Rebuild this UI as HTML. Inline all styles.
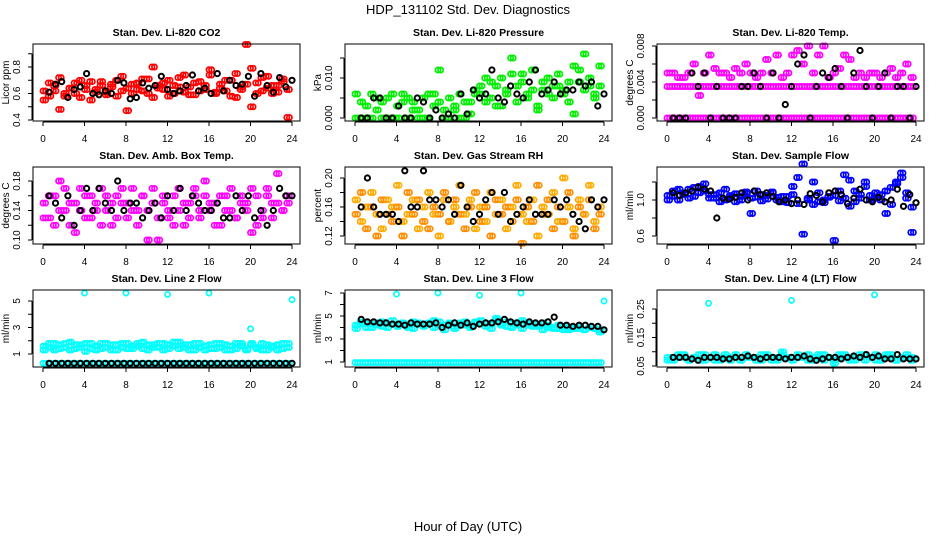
<!DOCTYPE html>
<html><head><meta charset="utf-8">
<style>
html,body{margin:0;padding:0;background:#fff;}
svg{display:block;font-family:"Liberation Sans",sans-serif;}
</style></head>
<body>
<svg id="chart" width="936" height="540" viewBox="0 0 936 540">
<rect width="936" height="540" fill="#fff"/>
<text x="468" y="14" text-anchor="middle" font-size="13">HDP_131102  Std. Dev. Diagnostics</text>
<text x="468" y="531" text-anchor="middle" font-size="13">Hour of Day (UTC)</text>
</svg>
<script>
// ---- shared hour categories ----
const hoursA=[0,0.5,1,1.5,2,2.5,3,3.5,4,4.5,5,5.5,6,6.5,7,7.5,8,8.5,9,9.5,10,10.5,11,11.5,12,12.5,13,13.5,14,14.5,15,15.5,16,16.5,17,17.5,18,18.5,19,19.5,20,20.5,21,21.5,22,22.5,23,23.5];
const hoursB=[0.25,0.75,1.25,1.75,2.25,2.75,3.25,3.75,4.25,4.75,5.25,5.75,6.25,6.75,7.25,7.75,8.25,8.75,9.25,9.75,10.25,10.75,11.25,11.75,12.25,12.75,13.25,13.75,14.25,14.75,15.25,15.75,16.25,16.75,17.25,17.75,18.25,18.75,19.25,19.75,20.25,20.75,21.25,21.75,22.25,22.75,23.25,23.75];
const hoursK=[0.6,1.2,1.8,2.4,3,3.6,4.2,4.8,5.4,6,6.6,7.2,7.8,8.4,9,9.6,10.2,10.8,11.4,12,12.6,13.2,13.8,14.4,15,15.6,16.2,16.8,17.4,18,18.6,19.2,19.8,20.4,21,21.6,22.2,22.8,23.4,24];
const xTicks=[0,4,8,12,16,20,24];
const xTickLabels=["0","4","8","12","16","20","24"];

// ---- panel 1: CO2 ----
const co2A=[0.62,0.58,0.66,0.48,0.60,0.64,0.68,0.57,0.63,0.69,0.61,0.66,0.59,0.65,0.70,0.62,0.47,0.67,0.63,0.71,0.60,0.80,0.64,0.68,0.58,0.66,0.72,0.61,0.65,0.59,0.69,0.63,0.74,0.60,0.67,0.62,0.70,0.57,0.65,0.97,0.50,0.68,0.62,0.73,0.60,0.66,0.71,0.42];
const co2B=[0.55,0.68,0.62,0.72,0.58,0.64,0.60,0.70,0.66,0.55,0.63,0.69,0.61,0.67,0.58,0.73,0.64,0.60,0.68,0.62,0.71,0.57,0.66,0.63,0.70,0.60,0.65,0.74,0.59,0.68,0.62,0.66,0.78,0.61,0.64,0.70,0.58,0.75,0.63,0.67,0.79,0.60,0.72,0.64,0.66,0.61,0.69,0.63];
const co2K=[0.61,0.67,0.69,0.57,0.63,0.65,0.75,0.60,0.59,0.62,0.60,0.70,0.68,0.56,0.57,0.68,0.64,0.66,0.73,0.63,0.60,0.62,0.66,0.74,0.62,0.64,0.60,0.75,0.62,0.70,0.66,0.67,0.73,0.58,0.75,0.66,0.61,0.72,0.65,0.70];
// ---- panel 2: Pressure ----
const presA=[0,0.004,0,0.006,0.002,0,0.005,0,0.003,0.006,0,0.004,0.002,0,0.006,0.003,0.012,0,0.005,0.002,0,0.004,0.001,0.006,0.008,0.004,0.009,0.003,0.010,0.006,0.015,0.008,0.011,0.005,0.007,0.003,0.009,0.006,0.008,0.011,0.007,0.004,0.013,0.009,0.016,0.008,0.006,0.013];
const presB=[0.006,0,0.003,0,0.005,0.004,0,0.006,0,0.004,0.005,0.002,0,0.005,0,0.006,0.004,0.002,0,0.003,0.006,0,0.004,0.007,0.006,0.010,0.005,0.008,0.003,0.007,0.011,0.004,0.009,0.006,0.012,0.002,0.007,0.010,0.005,0.008,0.006,0.009,0.001,0.012,0.007,0.010,0.005,0.008];
const presK=[0,0,0.005,0.005,0,0,0.003,0,0,0.005,0.004,0,0.002,0,0.001,0,0.006,0.001,0.007,0.005,0.006,0.012,0.005,0.004,0.008,0.006,0.005,0.009,0.012,0.006,0.007,0.009,0.006,0.007,0.007,0.009,0.008,0.009,0.003,0.006];
// ---- panel 3: Li-820 Temp ----
const tempA=[0,0,0,0,0,0,0,0,0,0,0,0,0,0,0,0,0,0,0,0,0,0,0,0,0,0,0,0,0,0,0,0,0,0,0,0,0,0,0,0,0,0,0,0,0,0,0,0];
const tempB=[0.0035,0.0035,0.0035,0.0035,0.0035,0.0035,0.0035,0.0035,0.0035,0.0035,0.0035,0.0035,0.0035,0.0035,0.0035,0.0035,0.0035,0.0035,0.0035,0.0035,0.0035,0.0035,0.0035,0.0035,0.0035,0.0035,0.0035,0.0035,0.0035,0.0035,0.0035,0.0035,0.0035,0.0035,0.0035,0.0035,0.0035,0.0035,0.0035,0.0035,0.0035,0.0035,0.0035,0.0035,0.0035,0.0035,0.0035,0.0035];
const tempC=[0.005,0.005,0.0045,0.0045,0.005,0.006,0.0025,0.005,0.007,0.0055,0.005,0.005,0.0045,0.0055,0.005,0.006,0.005,0.0045,0.005,0.0065,0.005,0.007,0.0045,0.005,0.007,0.0075,0.006,0.008,0.005,0.007,0.008,0.0045,0.005,0.0055,0.007,0.0065,0.0045,0.005,0.0045,0.005,0.005,0.0045,0.005,0.0055,0.0045,0.005,0.006,0.0045];
const tempK=[0,0,0,0.005,0.0035,0.005,0,0.0035,0,0,0,0.0035,0.0035,0.005,0.0035,0,0.005,0,0.0015,0.0035,0.006,0.007,0,0.0035,0.005,0.0045,0.0055,0.0035,0,0.005,0.0075,0.0035,0,0.0035,0.005,0,0.0035,0.0035,0,0.0035];
// ---- panel 4: Amb Box Temp ----
const ambA=[0.15,0.13,0.16,0.14,0.17,0.12,0.15,0.14,0.16,0.13,0.15,0.17,0.14,0.12,0.16,0.15,0.13,0.17,0.14,0.16,0.10,0.15,0.13,0.16,0.14,0.12,0.17,0.15,0.13,0.16,0.14,0.18,0.15,0.12,0.16,0.14,0.17,0.13,0.15,0.14,0.11,0.16,0.13,0.17,0.15,0.19,0.14,0.16];
const ambB=[0.13,0.16,0.12,0.18,0.14,0.15,0.11,0.17,0.13,0.16,0.14,0.12,0.16,0.15,0.13,0.17,0.15,0.14,0.12,0.16,0.14,0.17,0.10,0.15,0.13,0.16,0.14,0.12,0.15,0.17,0.13,0.16,0.14,0.15,0.12,0.16,0.14,0.13,0.16,0.15,0.17,0.12,0.14,0.16,0.13,0.15,0.14,0.15];
const ambK=[0.16,0.15,0.13,0.16,0.12,0.14,0.17,0.14,0.17,0.15,0.14,0.18,0.14,0.15,0.15,0.13,0.14,0.15,0.13,0.16,0.14,0.17,0.14,0.16,0.15,0.14,0.14,0.15,0.13,0.13,0.16,0.14,0.16,0.13,0.14,0.12,0.14,0.17,0.16,0.16];
// ---- panel 5: Gas Stream RH ----
const rhA=[0.17,0.14,0.16,0.18,0.15,0.13,0.17,0.16,0.19,0.14,0.15,0.17,0.13,0.16,0.18,0.15,0.12,0.17,0.14,0.16,0.19,0.15,0.17,0.13,0.16,0.14,0.18,0.15,0.17,0.13,0.16,0.19,0.15,0.14,0.17,0.12,0.16,0.15,0.18,0.14,0.20,0.16,0.13,0.17,0.15,0.19,0.14,0.16];
const rhB=[0.15,0.18,0.13,0.16,0.12,0.17,0.15,0.14,0.16,0.12,0.18,0.15,0.17,0.14,0.13,0.16,0.15,0.18,0.14,0.17,0.15,0.13,0.16,0.18,0.14,0.16,0.12,0.17,0.15,0.16,0.14,0.17,0.11,0.16,0.14,0.19,0.15,0.17,0.13,0.16,0.14,0.18,0.12,0.16,0.15,0.17,0.13,0.15];
const rhK=[0.16,0.20,0.16,0.15,0.15,0.15,0.14,0.21,0.16,0.16,0.21,0.17,0.17,0.16,0.17,0.15,0.19,0.16,0.14,0.15,0.17,0.18,0.15,0.18,0.14,0.15,0.16,0.17,0.15,0.15,0.15,0.17,0.16,0.17,0.15,0.14,0.13,0.17,0.16,0.17];
// ---- panel 6: Sample Flow ----
const sfA=[1.05,1.10,1.00,1.08,1.12,1.04,1.15,1.10,1.06,1.02,1.08,1.00,1.05,0.98,1.04,1.07,1.02,1.10,0.99,1.05,1.08,1.00,1.04,0.97,1.06,1.25,0.62,1.02,1.20,0.98,1.00,1.04,0.55,1.10,1.02,1.22,0.98,1.06,1.15,1.00,1.02,1.06,1.10,0.95,1.18,1.25,1.08,0.92];
const sfB=[1.00,1.04,1.12,1.06,1.02,1.14,1.08,1.18,1.02,1.06,0.98,1.12,1.03,1.07,1.00,1.09,0.85,1.03,1.06,1.01,1.09,1.03,0.98,1.04,1.15,0.96,1.40,1.00,0.95,1.08,0.97,1.03,1.05,0.99,1.28,0.93,1.10,1.02,1.20,1.05,1.08,1.00,0.85,1.14,1.20,1.30,1.02,0.64];
const sfK=[1.08,1.05,1.08,1.10,1.14,1.12,1.10,0.80,1.02,1.01,1.03,1.08,1.00,1.10,1.06,1.08,1.04,0.98,1.00,0.96,1.00,0.95,1.07,1.05,0.98,1.08,1.10,1.06,0.96,1.02,1.12,1.00,0.98,1.03,0.98,1.00,1.12,0.93,1.06,0.97];
// ---- panel 7: Line 2 Flow ----
const l2A=[1.6,1.8,1.3,1.7,1.5,1.9,1.4,1.7,1.2,1.8,1.6,1.4,1.8,1.3,1.7,1.5,1.8,1.4,1.6,1.9,1.3,1.7,1.5,1.8,1.4,1.6,1.9,1.5,1.7,1.3,1.8,1.6,1.4,1.8,1.5,1.7,1.3,1.8,1.6,1.4,1.7,1.5,1.8,1.3,1.6,1.7,1.4,1.8];
const l2B=[1.3,1.5,1.8,1.4,1.8,1.3,1.7,1.5,1.8,1.4,1.3,1.8,1.5,1.7,1.3,1.8,1.4,1.6,1.8,1.4,1.7,1.5,1.8,1.3,1.7,1.9,1.4,1.7,1.3,1.8,1.5,1.3,1.7,1.4,1.8,1.3,1.6,1.4,1.8,1.3,1.8,1.4,1.3,1.7,1.5,1.3,1.8,1.5];
const l2C=[0.3,0.3,0.3,0.3,0.3,0.3,0.3,0.3,0.3,0.3,0.3,0.3,0.3,0.3,0.3,0.3,0.3,0.3,0.3,0.3,0.3,0.3,0.3,0.3,0.3,0.3,0.3,0.3,0.3,0.3,0.3,0.3,0.3,0.3,0.3,0.3,0.3,0.3,0.3,0.3,0.3,0.3,0.3,0.3,0.3,0.3,0.3,0.3];
const l2OutHours=[4,8,12,16,20,24];
const l2Out=[5.6,5.6,5.5,5.6,2.9,5.1];
const l2K=[0.3,0.3,0.3,0.3,0.3,0.3,0.3,0.3,0.3,0.3,0.3,0.3,0.3,0.3,0.3,0.3,0.3,0.3,0.3,0.3,0.3,0.3,0.3,0.3,0.3,0.3,0.3,0.3,0.3,0.3,0.3,0.3,0.3,0.3,0.3,0.3,0.3,0.3,0.3,0.3];
// ---- panel 8: Line 3 Flow ----
const l3A=[4.2,4.5,4.0,4.3,4.4,4.1,4.3,4.6,4.2,4.4,4.0,4.5,4.3,4.1,4.4,4.6,4.2,3.8,4.4,4.1,4.3,4.5,4.2,4.4,4.6,4.1,4.3,4.8,4.2,4.5,4.0,4.4,4.6,4.2,4.3,4.1,4.4,4.0,3.9,4.2,3.8,4.0,3.9,4.1,3.8,4.0,3.9,3.8];
const l3B=[3.9,4.3,4.4,4.0,4.2,4.5,4.0,4.3,4.1,4.4,4.2,3.9,4.4,4.2,4.3,4.0,4.5,4.2,4.3,3.9,4.4,4.2,4.0,4.5,4.3,4.4,3.9,4.6,4.3,4.1,4.4,4.2,3.9,4.4,4.1,4.3,3.8,4.2,4.0,3.9,4.1,3.8,4.0,3.9,3.8,4.0,3.9,3.6];
const l3C=[0.95,0.95,0.95,0.95,0.95,0.95,0.95,0.95,0.95,0.95,0.95,0.95,0.95,0.95,0.95,0.95,0.95,0.95,0.95,0.95,0.95,0.95,0.95,0.95,0.95,0.95,0.95,0.95,0.95,0.95,0.95,0.95,0.95,0.95,0.95,0.95,0.95,0.95,0.95,0.95,0.95,0.95,0.95,0.95,0.95,0.95,0.95,0.95];
const l3OutHours=[4,8,12,16,24];
const l3Out=[6.9,7.0,6.8,7.0,6.3];
const l3K=[4.7,4.5,4.5,4.4,4.4,4.3,4.3,4.2,4.4,4.3,4.3,4.3,4.4,4.0,4.2,4.4,4.2,4.4,4.1,4.3,4.4,4.4,4.5,4.7,4.5,4.4,4.3,4.5,4.4,4.4,4.5,4.9,4.2,4.2,4.1,4.2,4.2,4.1,4.1,3.8];
// ---- panel 9: Line 4 (LT) Flow ----
const l4A=[0.08,0.07,0.09,0.08,0.07,0.08,0.09,0.07,0.08,0.09,0.07,0.08,0.08,0.09,0.07,0.08,0.08,0.07,0.09,0.08,0.07,0.08,0.09,0.08,0.07,0.08,0.08,0.09,0.07,0.08,0.09,0.08,0.07,0.08,0.09,0.08,0.07,0.08,0.09,0.08,0.07,0.08,0.09,0.08,0.07,0.08,0.08,0.07];
const l4B=[0.07,0.08,0.08,0.09,0.07,0.08,0.07,0.09,0.08,0.07,0.08,0.09,0.07,0.08,0.07,0.09,0.08,0.08,0.07,0.09,0.08,0.07,0.10,0.08,0.07,0.09,0.08,0.07,0.08,0.09,0.07,0.08,0.06,0.09,0.08,0.07,0.08,0.09,0.07,0.08,0.09,0.07,0.08,0.09,0.07,0.08,0.09,0.08];
const l4OutHours=[4,12,20];
const l4Out=[0.27,0.28,0.30];
const l4K=[0.08,0.08,0.08,0.075,0.07,0.08,0.08,0.08,0.075,0.075,0.08,0.08,0.085,0.08,0.075,0.08,0.08,0.08,0.075,0.08,0.08,0.085,0.075,0.07,0.075,0.08,0.08,0.075,0.08,0.085,0.08,0.09,0.08,0.085,0.075,0.075,0.09,0.075,0.075,0.075];

// ---- tick arrays ----
const p1Ticks=[0.4,0.5,0.6,0.7,0.8,0.9], p1Labels=["0.4","","0.6","","0.8",""];
const p2Ticks=[0,0.005,0.010,0.015], p2Labels=["0.000","","0.010",""];
const p3Ticks=[0,0.002,0.004,0.006,0.008], p3Labels=["0.000","","0.004","","0.008"];
const p4Ticks=[0.10,0.12,0.14,0.16,0.18], p4Labels=["0.10","","0.14","","0.18"];
const p5Ticks=[0.12,0.14,0.16,0.18,0.20], p5Labels=["0.12","","0.16","","0.20"];
const p6Ticks=[0.6,0.8,1.0,1.2], p6Labels=["0.6","","1.0",""];
const p7Ticks=[1,2,3,4,5], p7Labels=["1","","3","","5"];
const p8Ticks=[1,2,3,4,5,6,7], p8Labels=["1","","3","","5","","7"];
const p9Ticks=[0.05,0.10,0.15,0.20,0.25], p9Labels=["0.05","","0.15","","0.25"];

const NS="http://www.w3.org/2000/svg";
const svg=document.getElementById('chart');
function mk(tag,attrs,parent){const e=document.createElementNS(NS,tag);for(const k in attrs)e.setAttribute(k,attrs[k]);(parent||svg).appendChild(e);return e;}

const rowsTop=[44,167,290], rowsBot=[121,244,367];
const panels=[
 {c:0,r:0,title:"Stan. Dev. Li-820 CO2",ylab:"Licor ppm",cal:[0.4,120,0.8,67],ticks:p1Ticks,labels:p1Labels,
  series:[[hoursA,co2A,"#ff0000"],[hoursB,co2B,"#ff0000"],[hoursB,co2A,"#ff0000"],[hoursA,co2B,"#ff0000"],[hoursK,co2K,"#000"]]},
 {c:1,r:0,title:"Stan. Dev. Li-820 Pressure",ylab:"kPa",cal:[0,118,0.010,78],ticks:p2Ticks,labels:p2Labels,
  series:[[hoursA,presA,"#00ee00"],[hoursB,presB,"#00ee00"],[hoursB,presA,"#00ee00"],[hoursA,presB,"#00ee00"],[hoursK,presK,"#000"]]},
 {c:2,r:0,title:"Stan. Dev. Li-820 Temp.",ylab:"degrees C",cal:[0,118,0.008,46],ticks:p3Ticks,labels:p3Labels,
  series:[[hoursA,tempA,"#ff00ff"],[hoursB,tempA,"#ff00ff"],[hoursA,tempB,"#ff00ff"],[hoursB,tempB,"#ff00ff"],[hoursB,tempC,"#ff00ff"],[hoursA,tempC,"#ff00ff"],[hoursK,tempK,"#000"]]},
 {c:0,r:1,title:"Stan. Dev. Amb. Box Temp.",ylab:"degrees C",cal:[0.10,240,0.18,181],ticks:p4Ticks,labels:p4Labels,
  series:[[hoursA,ambA,"#ff00ff"],[hoursB,ambB,"#ff00ff"],[hoursB,ambA,"#ff00ff"],[hoursA,ambB,"#ff00ff"],[hoursK,ambK,"#000"]]},
 {c:1,r:1,title:"Stan. Dev. Gas Stream RH",ylab:"percent",cal:[0.12,236,0.20,178],ticks:p5Ticks,labels:p5Labels,
  series:[[hoursA,rhA,"#ffa500"],[hoursB,rhB,"#ff9000"],[hoursB,rhA,"#ffb000"],[hoursA,rhB,"#ff8c00"],[hoursK,rhK,"#000"]]},
 {c:2,r:1,title:"Stan. Dev. Sample Flow",ylab:"ml/min",cal:[0.6,236,1.0,200],ticks:p6Ticks,labels:p6Labels,
  series:[[hoursA,sfA,"#0000ff"],[hoursB,sfB,"#0000ff"],[hoursB,sfA,"#0000ff"],[hoursA,sfB,"#0000ff"],[hoursK,sfK,"#000"]]},
 {c:0,r:2,title:"Stan. Dev. Line 2 Flow",ylab:"ml/min",cal:[1,354,5,301],ticks:p7Ticks,labels:p7Labels,
  series:[[hoursA,l2A,"#00ffff"],[hoursB,l2B,"#00ffff"],[hoursB,l2A,"#00ffff"],[hoursA,l2B,"#00ffff"],[hoursA,l2C,"#00ffff"],[hoursB,l2C,"#00ffff"],[l2OutHours,l2Out,"#00ffff"],[hoursK,l2K,"#000"]]},
 {c:1,r:2,title:"Stan. Dev. Line 3 Flow",ylab:"ml/min",cal:[1,362,7,293],ticks:p8Ticks,labels:p8Labels,
  series:[[hoursA,l3A,"#00ffff"],[hoursB,l3B,"#00ffff"],[hoursB,l3A,"#00ffff"],[hoursA,l3B,"#00ffff"],[hoursA,l3C,"#00ffff"],[hoursB,l3C,"#00ffff"],[l3OutHours,l3Out,"#00ffff"],[hoursK,l3K,"#000"]]},
 {c:2,r:2,title:"Stan. Dev. Line 4 (LT) Flow",ylab:"ml/min",cal:[0.05,366,0.25,309],ticks:p9Ticks,labels:p9Labels,
  series:[[hoursA,l4A,"#00ffff"],[hoursB,l4B,"#00ffff"],[hoursB,l4A,"#00ffff"],[hoursA,l4B,"#00ffff"],[l4OutHours,l4Out,"#00ffff"],[hoursK,l4K,"#000"]]}
];

panels.forEach((p,i)=>{
  const L=33+312*p.c, R=L+267, T=rowsTop[p.r], B=rowsBot[p.r];
  const x0=L+10, xs=(249)/24;
  const xf=h=>x0+h*xs;
  const [v0,py0,v1,py1]=p.cal;
  const yf=v=>py0+(v-v0)*(py1-py0)/(v1-v0);
  const g=mk('g',{});
  
  
  const t=mk('text',{x:(L+R)/2,y:T-8,'text-anchor':'middle','font-size':'10.5','font-weight':'bold'},g);
  t.textContent=p.title;
  
  
  const pts=mk('g',{fill:'none'},g);
  
  
  p.series.forEach(s=>{
    const [hx,vals,col]=s;
    const sw=col==="#000"?2:1.7;
    vals.forEach((v,k)=>{
      const c=mk('circle',{cx:xf(hx[k]).toFixed(1),cy:yf(v).toFixed(1),r:2.6,stroke:col,'stroke-width':sw},pts);
      
      
    });
  });
  const box=mk('rect',{x:L,y:T,width:R-L,height:B-T,fill:'none',stroke:'#000','stroke-width':'1'},g);
  
  
  const xa=mk('g',{},g);
  
  
  mk('line',{x1:xf(0),x2:xf(24),y1:B+1,y2:B+1,stroke:'#000'},xa);
  xTicks.forEach((h,k)=>{
    mk('line',{x1:xf(h),x2:xf(h),y1:B+1,y2:B+5,stroke:'#000'},xa);
    const tl=mk('text',{x:xf(h),y:B+21,'text-anchor':'middle','font-size':'10'},xa);
    tl.textContent=xTickLabels[k];
    
    
  });
  const ya=mk('g',{},g);
  
  
  const yt=p.ticks;
  mk('line',{x1:L-1,x2:L-1,y1:yf(yt[0]),y2:yf(yt[yt.length-1]),stroke:'#000'},ya);
  yt.forEach((v,k)=>{
    mk('line',{x1:L-5,x2:L-1,y1:yf(v),y2:yf(v),stroke:'#000'},ya);
    if(p.labels[k]){
      const yl=mk('text',{x:L-13,y:yf(v),'text-anchor':'middle','font-size':'10',transform:`rotate(-90 ${L-13} ${yf(v)})`},ya);
      yl.textContent=p.labels[k];
      
      
    }
  });
  const ytitle=mk('text',{x:L-24,y:(T+B)/2,'text-anchor':'middle','font-size':'10',transform:`rotate(-90 ${L-24} ${(T+B)/2})`},ya);
  ytitle.textContent=p.ylab;
  
  
});
</script>
</body></html>
